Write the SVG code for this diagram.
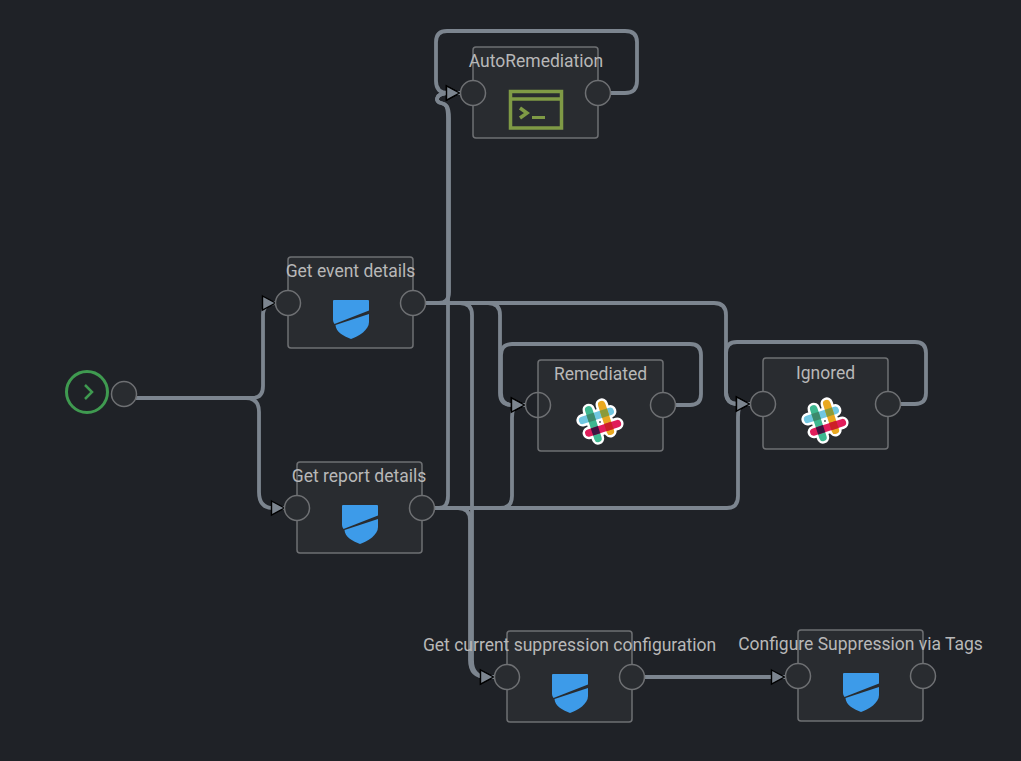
<svg xmlns="http://www.w3.org/2000/svg" width="1021" height="761" viewBox="0 0 1021 761">
<style>
.bg{fill:#1f2227}
.box{fill:#292c30;stroke:#6e7073;stroke-width:1.5}
.port{fill:#292c30;stroke:#6e7073;stroke-width:1.5}
.lbl{font-family:Roboto,"Liberation Sans",sans-serif;font-size:17.5px;fill:#b8b8b8;text-anchor:middle}
.c{fill:none;stroke:#7c858f;stroke-width:3.8}
.a{marker-end:url(#arrow)}
</style>
<defs>
<marker id="arrow" markerUnits="userSpaceOnUse" viewBox="0 0 16 18" refX="15" refY="9" markerWidth="16" markerHeight="18" orient="auto">
<path d="M1.500,2 L14.500,9 L1.500,16 Z" fill="#7c858f" stroke="#000" stroke-width="1.4"/>
</marker>
<g id="shield">
<path d="M0,1 Q0,0 1,0 H35 Q36,0 36,1 V10.500 L1.500,24 Q0,22 0,20 Z" fill="#3d9be9"/>
<path d="M2.500,25 L36,14 V22 C36,30 26,36 18,39 C10,36 3,32 2.500,25 Z" fill="#3d9be9"/>
</g>
<g id="slack" stroke-linecap="round" fill="none">
<g transform="rotate(-18)">
<g stroke="#fff" stroke-width="12.500">
<path d="M-7,-15 V15"/><path d="M7,-16 V12"/><path d="M-16,-7 H13"/><path d="M-14,7 H16"/>
</g>
<g stroke-width="7.500">
<path d="M-16,-7 H13" stroke="#70c7e1"/>
<path d="M-7,-15 V15" stroke="#3eb890"/>
<path d="M7,-16 V12" stroke="#e9a820"/>
<path d="M-14,7 H16" stroke="#e01d5a"/>
</g>
<g stroke="none">
<rect x="-10.750" y="-10.750" width="7.500" height="7.500" fill="#3d8a6c"/>
<rect x="3.250" y="-10.750" width="7.500" height="7.500" fill="#8b9b3a"/>
<rect x="-10.750" y="3.250" width="7.500" height="7.500" fill="#3f1440"/>
<rect x="3.250" y="3.250" width="7.500" height="7.500" fill="#cc2027"/>
</g>
</g>
</g>
</defs>
<rect class="bg" width="1021" height="761"/>
<g id="connectors">
<path class="c a" d="M136,398 H252 Q263,398 263,386 V315 Q263,303 276,303"/>
<path class="c a" d="M136,398 H246 Q259,398 259,412 V492 Q259,508 273,508 H285"/>
<path class="c a" d="M425,303 H439 Q449,303 449,292 V118 C449,106 446,104 441,103 C435,102 435,94 447,93 H460"/>
<path class="c a" d="M434,508 H439 Q448,508 448,496 V118 C448,106 446,104 441,103 C435,102 435,94 447,93 H460"/>
<path class="c a" d="M610,93 H625 Q637,93 637,81 V42 Q637,31 625,31 H447 Q436,31 436,42 V81 Q436,93 448,93 H460"/>
<path class="c a" d="M425,303 H488 Q500,303 500,315 V393 Q500,405 512,405 H525"/>
<path class="c a" d="M675,405 H690 Q701,405 701,394 V355 Q701,344 690,344 H512 Q501,344 501,355 V393 Q501,405 513,405 H525"/>
<path class="c a" d="M434,508 H500 Q512,508 512,496 V418 Q512,405 519,405 H525"/>
<path class="c a" d="M425,303 H714 Q726,303 726,315 V392 Q726,404 738,404 H750"/>
<path class="c a" d="M900,404 H915 Q926,404 926,393 V353 Q926,342 915,342 H737 Q726,342 726,353 V392 Q726,404 738,404 H750"/>
<path class="c a" d="M434,508 H727 Q738,508 738,496 V417 Q738,404 744,404 H750"/>
<path class="c a" d="M425,303 H460 Q472,303 472,315 V660 Q472,677 487,677 H494"/>
<path class="c a" d="M434,508 H458 Q470,508 470,520 V660 Q470,677 487,677 H494"/>
<path class="c a" d="M644,677 H785"/>
</g>
<g id="start">
<circle cx="87" cy="392" r="20.500" fill="#1f2227" stroke="#3f9a50" stroke-width="3"/>
<path d="M85,385 L92,392 L85,399" fill="none" stroke="#3f9a50" stroke-width="2.500"/>
<circle class="port" cx="124" cy="394" r="12.500"/>
</g>
<g id="node-autoremediation">
<rect class="box" x="473" y="47" width="125" height="91" rx="3"/>
<circle class="port" cx="473" cy="93" r="12.500"/><circle class="port" cx="598" cy="93" r="12.500"/>
<text class="lbl" x="536" y="66.500">AutoRemediation</text>
<g fill="none" stroke="#7f9a45" stroke-width="3.500">
<rect x="510.500" y="91.500" width="51" height="36.500"/><path d="M510,99 H562"/>
<path d="M520,108 L527,113 L520,118"/><path d="M532,117.500 H545" stroke-width="3"/>
</g>
</g>
<g id="node-get-event-details">
<rect class="box" x="288" y="257" width="125" height="91" rx="3"/>
<circle class="port" cx="288" cy="303" r="12.500"/><circle class="port" cx="413" cy="303" r="12.500"/>
<text class="lbl" x="350.500" y="276.500">Get event details</text>
<use href="#shield" x="333" y="300"/>
</g>
<g id="node-get-report-details">
<rect class="box" x="297" y="462" width="125" height="91" rx="3"/>
<circle class="port" cx="297" cy="508" r="12.500"/><circle class="port" cx="422" cy="508" r="12.500"/>
<text class="lbl" x="359" y="481.500">Get report details</text>
<use href="#shield" x="342" y="505"/>
</g>
<g id="node-remediated">
<rect class="box" x="538" y="360" width="125" height="91" rx="3"/>
<circle class="port" style="fill:none" cx="538" cy="405" r="12.500"/><circle class="port" cx="663" cy="405" r="12.500"/>
<text class="lbl" x="600.500" y="379.500">Remediated</text>
<use href="#slack" x="600" y="422"/>
</g>
<g id="node-ignored">
<rect class="box" x="763" y="358" width="125" height="91" rx="3"/>
<circle class="port" cx="763" cy="404" r="12.500"/><circle class="port" cx="888" cy="404" r="12.500"/>
<text class="lbl" x="825.500" y="378.500">Ignored</text>
<use href="#slack" x="825" y="421"/>
</g>
<g id="node-get-current-suppression">
<rect class="box" x="507" y="631" width="125" height="91" rx="3"/>
<circle class="port" cx="507" cy="677" r="12.500"/><circle class="port" cx="632" cy="677" r="12.500"/>
<text class="lbl" x="569.500" y="650.500">Get current suppression configuration</text>
<use href="#shield" x="552" y="674"/>
</g>
<g id="node-configure-suppression">
<rect class="box" x="798" y="630" width="125" height="91" rx="3"/>
<circle class="port" cx="798" cy="676" r="12.500"/><circle class="port" cx="923" cy="676" r="12.500"/>
<text class="lbl" x="860.500" y="649.500">Configure Suppression via Tags</text>
<use href="#shield" x="843" y="673"/>
</g>
</svg>
